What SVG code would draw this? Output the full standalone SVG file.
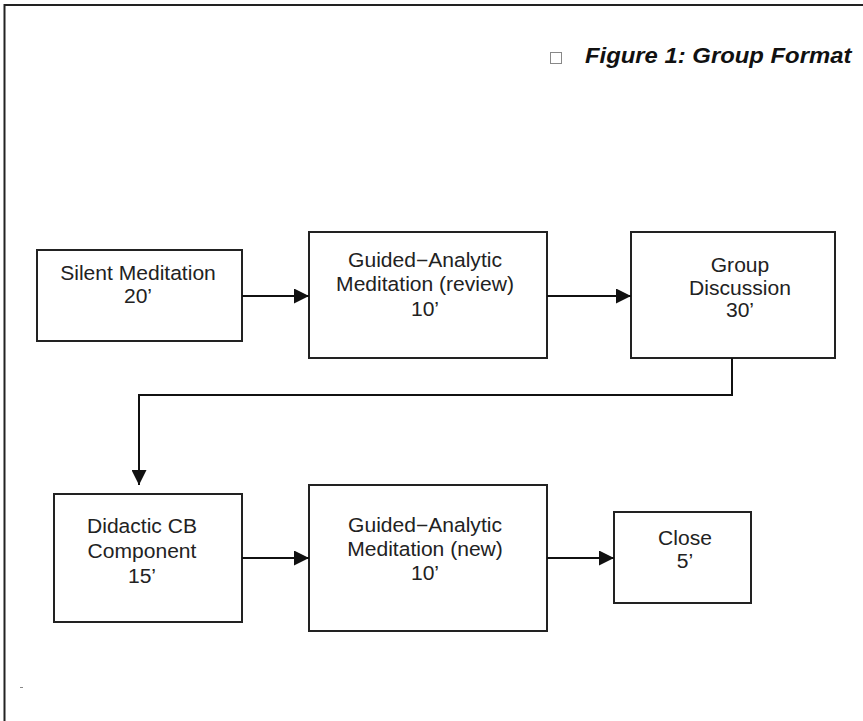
<svg xmlns="http://www.w3.org/2000/svg" width="863" height="721" viewBox="0 0 863 721">
<style>
.box{fill:#fff;stroke:#222;stroke-width:2}
.lbl{font-family:"Liberation Sans",Arial,sans-serif;font-size:19.5px;fill:#222;text-anchor:middle}
.title{font-family:"Liberation Sans",Arial,sans-serif;font-size:21.5px;font-weight:bold;font-style:italic;fill:#111}
.con{fill:none;stroke:#111;stroke-width:2}
</style>
<defs>
<marker id="ah" markerUnits="userSpaceOnUse" markerWidth="15" markerHeight="15" refX="15" refY="7.5" orient="auto">
<path d="M0,0 L15,7.5 L0,15 Z" fill="#111"/>
</marker>
</defs>
<rect width="863" height="721" fill="#fff"/>
<path d="M4.5,721 V5 H863" fill="none" stroke="#222" stroke-width="2"/>
<g id="title">
<rect x="550.5" y="52.5" width="11" height="11" fill="none" stroke="#888" stroke-width="1"/>
<text class="title" transform="translate(585,0) scale(1.11,1)" x="0" y="63">Figure 1: Group Format</text>
</g>
<g id="n1">
<rect class="box" x="37" y="250" width="205" height="91"/>
<text class="lbl" transform="translate(138,0) scale(1.08,1)"><tspan x="0" y="280">Silent Meditation</tspan><tspan x="0" y="303">20’</tspan></text>
</g>
<g id="n2">
<rect class="box" x="309" y="232" width="238" height="126"/>
<text class="lbl" transform="translate(425,0) scale(1.08,1)"><tspan x="0" y="267">Guided−Analytic</tspan><tspan x="0" y="291.5">Meditation (review)</tspan><tspan x="0" y="316">10’</tspan></text>
</g>
<g id="n3">
<rect class="box" x="631" y="232" width="204" height="126"/>
<text class="lbl" transform="translate(740,0) scale(1.08,1)"><tspan x="0" y="272">Group</tspan><tspan x="0" y="295">Discussion</tspan><tspan x="0" y="317">30’</tspan></text>
</g>
<g id="n4">
<rect class="box" x="54" y="494" width="188" height="128"/>
<text class="lbl" transform="translate(142,0) scale(1.08,1)"><tspan x="0" y="533">Didactic CB</tspan><tspan x="0" y="558">Component</tspan><tspan x="0" y="583">15’</tspan></text>
</g>
<g id="n5">
<rect class="box" x="309" y="485" width="238" height="146"/>
<text class="lbl" transform="translate(425,0) scale(1.08,1)"><tspan x="0" y="532">Guided−Analytic</tspan><tspan x="0" y="556">Meditation (new)</tspan><tspan x="0" y="580">10’</tspan></text>
</g>
<g id="n6">
<rect class="box" x="614" y="512" width="137" height="91"/>
<text class="lbl" transform="translate(685,0) scale(1.08,1)"><tspan x="0" y="545">Close</tspan><tspan x="0" y="568">5’</tspan></text>
</g>
<g id="connectors">
<line class="con" x1="242" y1="296" x2="309" y2="296" marker-end="url(#ah)"/>
<line class="con" x1="547" y1="296" x2="631" y2="296" marker-end="url(#ah)"/>
<polyline class="con" points="732,358 732,395 139,395 139,485" marker-end="url(#ah)"/>
<line class="con" x1="242" y1="558" x2="309" y2="558" marker-end="url(#ah)"/>
<line class="con" x1="547" y1="558" x2="614" y2="558" marker-end="url(#ah)"/>
</g>
<line x1="20" y1="687.5" x2="23" y2="687.5" stroke="#888" stroke-width="1"/>
</svg>
